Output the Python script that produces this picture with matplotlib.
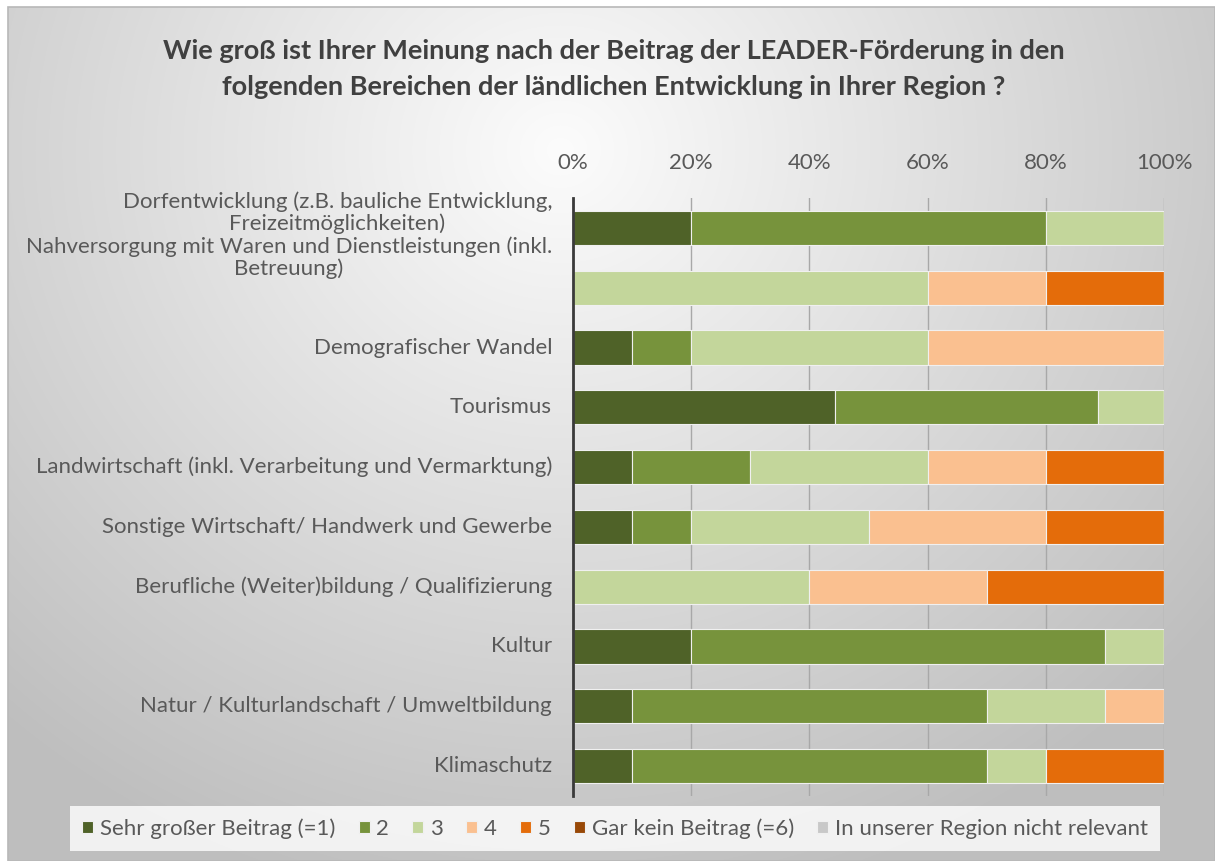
import numpy as np
import matplotlib
matplotlib.use('Agg')
import matplotlib.pyplot as plt
from matplotlib.patches import Rectangle

plt.rcParams['font.family'] = ['Lato', 'DejaVu Sans']

categories = [
    'Dorfentwicklung (z.B. bauliche Entwicklung,\nFreizeitmöglichkeiten)',
    'Nahversorgung mit Waren und Dienstleistungen (inkl.\nBetreuung)',
    'Demografischer Wandel',
    'Tourismus',
    'Landwirtschaft (inkl. Verarbeitung und Vermarktung)',
    'Sonstige Wirtschaft/ Handwerk und Gewerbe',
    'Berufliche (Weiter)bildung / Qualifizierung',
    'Kultur',
    'Natur / Kulturlandschaft / Umweltbildung',
    'Klimaschutz',
]
series_names = ['Sehr großer Beitrag (=1)', '2', '3', '4', '5',
                'Gar kein Beitrag (=6)', 'In unserer Region nicht relevant']
s1 = [20, 0, 10, 44.4, 10, 10, 0, 20, 10, 10]
s2 = [60, 0, 10, 44.4, 20, 10, 0, 70, 60, 60]
s3 = [20, 60, 40, 11.2, 30, 30, 40, 10, 20, 10]
s4 = [0, 20, 40, 0, 20, 30, 30, 0, 10, 0]
s5 = [0, 20, 0, 0, 20, 20, 30, 0, 0, 20]
s6 = [0, 0, 0, 0, 0, 0, 0, 0, 0, 0]
s7 = [0, 0, 0, 0, 0, 0, 0, 0, 0, 0]
colors = ['#4f6228', '#77933c', '#c3d69b', '#fac090', '#e46c0a', '#984807', '#c8c8c8']
# vertical shift of the wrapped labels (Excel puts them a bit higher)
label_shift = [-0.25, -0.5, 0, 0, 0, 0, 0, 0, 0, 0]

W, H = 1215, 861
fig = plt.figure(figsize=(W / 100, H / 100), dpi=100)

# background gradient
bg = fig.add_axes([0, 0, 1, 1], zorder=-10)
yy, xx = np.mgrid[0:H, 0:W]
d = np.sqrt(((xx - 560) / 700.0) ** 2 + ((yy - 150) / 650.0) ** 2)
v = np.clip(252 - 52 * d, 190, 255) / 255.0
img = np.dstack([v, v, v])
img[:7, :, :] = 1
img[:, :8, :] = 1
bg.imshow(img, extent=[0, W, H, 0], aspect='auto', interpolation='bilinear')
bg.add_patch(Rectangle((8, 7), W - 8, H - 7, fill=False, ec='#b8b8b8', lw=1.2))
bg.set_xlim(0, W)
bg.set_ylim(H, 0)
bg.axis('off')

ax = fig.add_axes([573 / W, 1 - 796 / H, 591 / W, 598 / H])
ax.patch.set_alpha(0)

data = [s1, s2, s3, s4, s5, s6, s7]
y = np.arange(len(categories))
left = np.zeros(len(categories))
for name, vals, c in zip(series_names, data, colors):
    vals = np.array(vals, dtype=float)
    ax.barh(y, vals, left=left, height=0.57, color=c, edgecolor='#f0f0f0',
            linewidth=0.8, label=name, zorder=3)
    left += vals

ax.set_xlim(0, 100)
ax.set_ylim(len(categories) - 0.5, -0.5)
ax.xaxis.tick_top()
ax.set_xticks([0, 20, 40, 60, 80, 100])
ax.set_xticklabels(['0%', '20%', '40%', '60%', '80%', '100%'])
ax.tick_params(axis='x', length=0, pad=18, labelsize=16, labelcolor='#595959')
ax.set_yticks([])
ax.grid(axis='x', color='#a8a8a8', lw=1, zorder=0)
for s in ['top', 'right', 'bottom']:
    ax.spines[s].set_visible(False)
ax.spines['left'].set_color('#3a3a3a')
ax.spines['left'].set_linewidth(2)
ax.spines['left'].set_zorder(4)

for i, lab in enumerate(categories):
    ax.text(-0.0355, i + label_shift[i], lab, transform=ax.get_yaxis_transform(),
            ha='right', va='center', multialignment='center', fontsize=16,
            color='#595959', linespacing=1.1)

fig.text(614 / W, 1 - 69 / H,
         'Wie groß ist Ihrer Meinung nach der Beitrag der LEADER-Förderung in den\n'
         'folgenden Bereichen der ländlichen Entwicklung in Ihrer Region ?',
         ha='center', va='center', fontsize=19.5, fontweight='bold', color='#404040',
         linespacing=1.6)

leg = fig.legend(loc='lower left', bbox_to_anchor=(70 / W, 10 / H, 1090 / W, 45 / H),
                 mode='expand', ncol=7, fontsize=16, frameon=True, fancybox=False,
                 handlelength=0.5, handleheight=0.5, handletextpad=0.3,
                 borderaxespad=0, borderpad=0.55, labelcolor='#595959')
leg.get_frame().set_facecolor((1, 1, 1, 0.35))
leg.get_frame().set_edgecolor('none')

fig.savefig('out.png', dpi=100)
